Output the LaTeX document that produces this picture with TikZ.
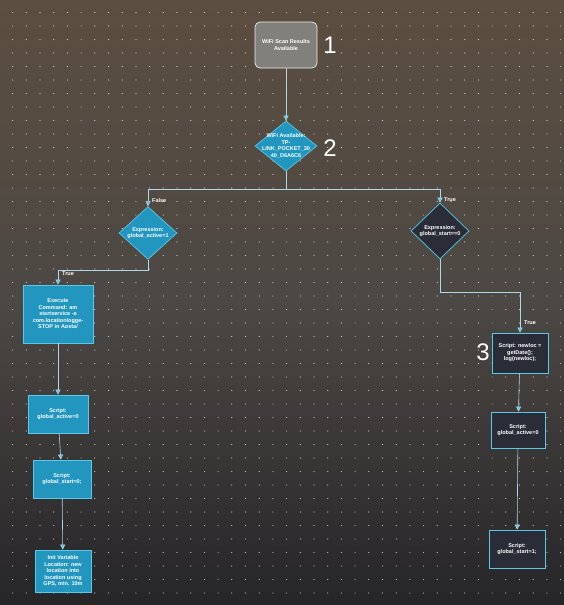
\documentclass[tikz,border=0pt]{standalone}
\usepackage{fontspec}
\setmainfont{Liberation Sans}
\usetikzlibrary{shapes.geometric,arrows.meta}
\definecolor{bgtop}{RGB}{92,78,64}
\definecolor{bgmid}{RGB}{76,72,68}
\definecolor{bgbot}{RGB}{38,37,40}
\definecolor{lineblue}{RGB}{175,215,232}
\definecolor{cyanfill}{RGB}{34,150,190}
\definecolor{cyanedge}{RGB}{90,200,230}
\definecolor{darkfill}{RGB}{42,44,56}
\definecolor{grayfill}{RGB}{130,128,122}
\tikzset{
  lbl/.style={font=\fontsize{5.5}{6.5}\selectfont\bfseries, text=white, align=center, inner sep=1pt},
  startbox/.style={lbl, draw=white!85!gray, fill=grayfill, rounded corners=5pt, line width=0.7pt, minimum width=62pt, minimum height=46pt},
  cdia/.style={lbl, diamond, draw=cyanedge, fill=cyanfill, line width=0.7pt, inner sep=0pt},
  ddia/.style={lbl, diamond, draw=cyanedge, fill=darkfill, line width=0.7pt, inner sep=0pt},
  cbox/.style={lbl, draw=cyanedge, fill=cyanfill, line width=0.8pt},
  dbox/.style={lbl, draw=cyanedge, fill=darkfill, line width=0.8pt},
  conn/.style={draw=lineblue, line width=0.6pt, -{Triangle[width=5pt,length=5pt,fill=cyanedge]}},
  branch/.style={font=\fontsize{5.5}{6.5}\selectfont\bfseries, text=white, inner sep=1pt},
  num/.style={font=\fontsize{24}{26}\selectfont, text=white}
}
\begin{document}
\begin{tikzpicture}[x=1pt,y=-1pt]
\shade[top color=bgtop, bottom color=bgmid] (0,0) rectangle (564,300);
\shade[top color=bgmid, bottom color=bgbot] (0,300) rectangle (564,605);
\useasboundingbox (0,0) rectangle (564,605);
\foreach \i in {0,...,41}{
  \foreach \j in {0,...,44}{
    \fill[white, opacity=0.7] (12.6+\i*13.7, 12.5+\j*13.5) circle (0.6pt);
  }
}
% nodes
\node[startbox] (n1) at (286,45) {WiFi Scan Results\\Available};
\node[cdia, minimum width=62pt, minimum height=50pt] (d2) at (286,146) {};
\node[lbl] (d2t) at (d2.center) {WiFi Available:\\TP-\\LINK\_POCKET\_30\\40\_D6A6C6};
\node[cdia, minimum width=58pt, minimum height=48pt] (dL) at (148,233) {Expression:\\global\_active=1};
\node[ddia, minimum width=58pt, minimum height=56pt] (dR) at (440,231) {Expression:\\global\_start==0};
\node[cbox, minimum width=70pt, minimum height=58pt] (bL1) at (58,314) {Execute\\Command: am\\startservice -a\\com.locationlogge-\\STOP in Aosta/};
\node[cbox, minimum width=60pt, minimum height=38pt] (bL2) at (58,414) {Script:\\global\_active=0};
\node[cbox, minimum width=58pt, minimum height=38pt] (bL3) at (62,479) {Script:\\global\_start=0;};
\node[cbox, minimum width=56pt, minimum height=42pt] (bL4) at (63,571) {Init Variable\\Location: new\\location into\\location using\\GPS, min. 10m};
\node[dbox, minimum width=56pt, minimum height=40pt] (bR1) at (520,353) {Script: newloc =\\getDate();\\log(newloc);};
\node[dbox, minimum width=54pt, minimum height=36pt] (bR2) at (518,430) {Script:\\global\_active=0};
\node[dbox, minimum width=56pt, minimum height=38pt] (bR3) at (517,549) {Script:\\global\_start=1;};
% junction coordinates
\coordinate (jL) at (148,189);
\coordinate (jR) at (440,189);
\coordinate (kL) at (58,270);
\coordinate (kR) at (520,292);
% connectors
\draw[conn] (n1) -- (d2);
\draw[conn] (d2.south) |- (jL) -- (dL.north);
\draw[conn] (d2.south) |- (jR) -- (dR.north);
\draw[conn] (dL.south) |- (kL) -- (bL1.north);
\draw[conn] (dR.south) |- (kR) -- (bR1.north);
\draw[conn] (bL1) -- (bL2);
\draw[conn] (bL2) -- (bL3);
\draw[conn] (bL3) -- (bL4);
\draw[conn] (bR1) -- (bR2);
\draw[conn] (bR2) -- (bR3);
% branch labels
\node[branch, anchor=west] (fL) at (151,201) {False};
\node[branch, anchor=west] (tR) at (443,200) {True};
\node[branch, anchor=west] (tL) at (61,274) {True};
\node[branch, anchor=west] (tR2) at (523,323) {True};
% annotations
\node[num] (a1) at (330,45) {1};
\node[num] (a2) at (330,148) {2};
\node[num] (a3) at (483,352) {3};
\end{tikzpicture}
\end{document}
